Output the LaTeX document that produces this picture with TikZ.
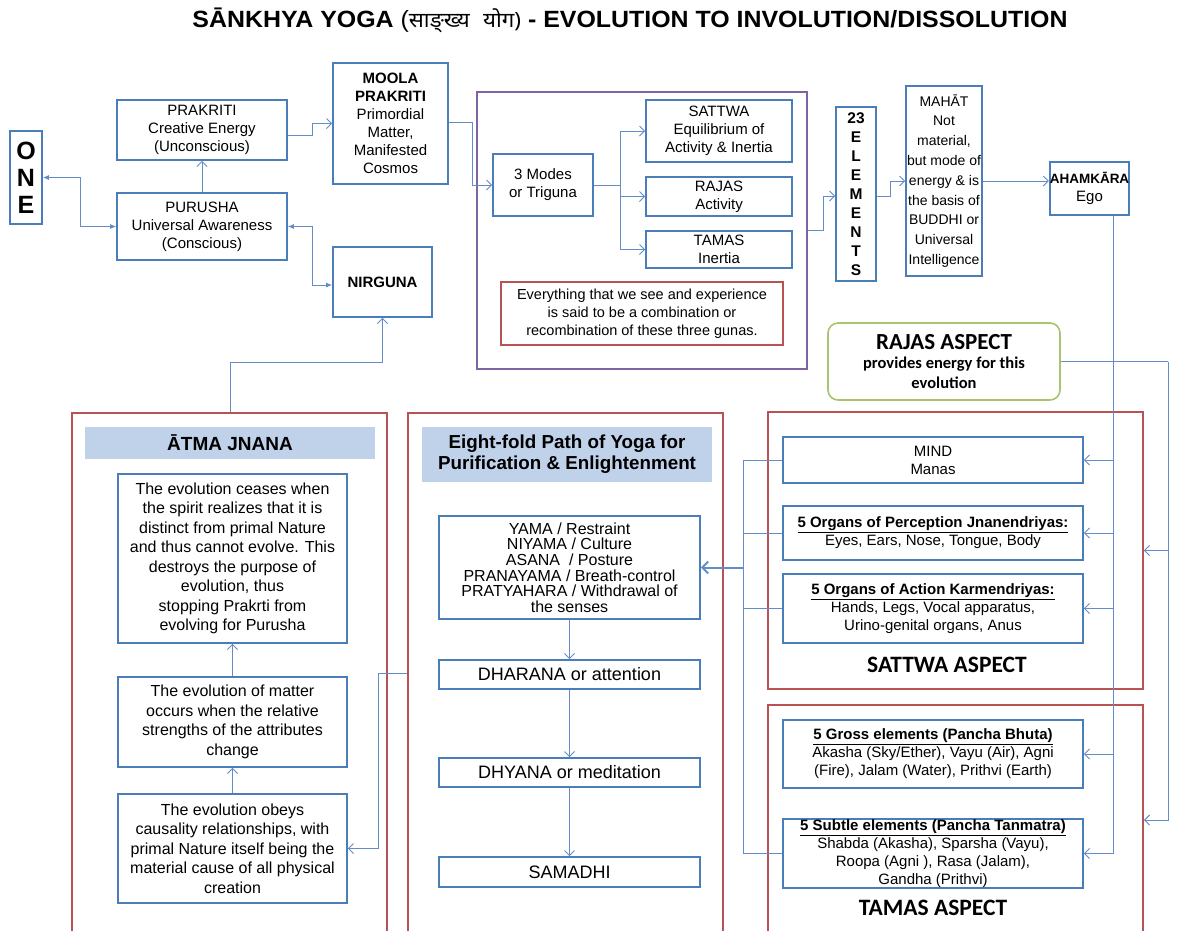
\documentclass[tikz,border=0pt]{standalone}
\usepackage{fontspec}
\setmainfont{Liberation Sans}
\newfontfamily\devfont[Script=Devanagari]{Noto Sans}
\newfontfamily\calfont{Carlito}
\usetikzlibrary{arrows.meta}
\definecolor{boxblue}{RGB}{74,126,187}
\definecolor{linkblue}{RGB}{100,140,198}
\definecolor{framered}{RGB}{185,82,82}
\definecolor{framepurple}{RGB}{128,100,162}
\definecolor{framegreen}{RGB}{170,195,110}
\definecolor{headfill}{RGB}{192,210,234}
\newcommand{\fs}[2]{\fontsize{#1}{#2}\selectfont}

\begin{document}
\begin{tikzpicture}[x=1pt,y=-1pt,
  box/.style={draw=boxblue,line width=1.6pt,fill=white,align=center,inner sep=1pt,font=\fs{15}{18}},
  frame/.style={draw=framered,line width=1.6pt,inner sep=0pt},
  head/.style={fill=headfill,inner sep=0pt,align=center},
  link/.style={draw=linkblue,line width=1pt},
  open/.style={-{Straight Barb[length=5pt,width=10pt]}},
  solid2/.style={{Latex[length=6pt,width=5pt]}-{Latex[length=6pt,width=5pt]}},
  aspect/.style={font=\calfont\bfseries\fs{23.5}{26},inner sep=0pt}
]
\useasboundingbox (0,0) rectangle (1182,930);
\clip (0,0) rectangle (1182,930);
\fill[white] (0,0) rectangle (1182,930);

% heading
\node[inner sep=0pt] (title) at (630,20)
  {\resizebox{875pt}{\height}{\fs{23.5}{26}\bfseries SĀNKHYA YOGA {\mdseries(\devfont\fs{21}{26}साङ्ख्य\hspace{0.6em}योग)} - EVOLUTION TO INVOLUTION/DISSOLUTION}};

% large frames
\node[draw=framepurple,line width=1.6pt,minimum width=330pt,minimum height=277pt,inner sep=0pt] (purp) at (642,230.5) {};
\node[frame,minimum width=315pt,minimum height=540pt] (redL) at (229.5,683) {};
\node[frame,minimum width=315pt,minimum height=540pt] (redM) at (565.5,683) {};
\node[frame,minimum width=375pt,minimum height=277pt] (redS) at (955.5,550.5) {};
\node[frame,minimum width=375pt,minimum height=240pt] (redT) at (955.5,825) {};

% frame headings
\node[head,minimum width=290pt,minimum height=32pt,font=\bfseries\fs{19}{21}] (atmahead) at (230,443) {ĀTMA JNANA};
\node[head,minimum width=290pt,minimum height=55pt,font=\bfseries\fs{18.8}{21}] (eighthead) at (567,454.5) {Eight-fold Path of Yoga for\\Purification \& Enlightenment};

% top row
\node[box,minimum width=32pt,minimum height=93pt,font=\bfseries\fs{25}{27}] (one) at (26,177.5) {O\\N\\E};
\node[box,minimum width=170pt,minimum height=60pt] (prak) at (202,130) {PRAKRITI\\Creative Energy\\(Unconscious)};
\node[box,minimum width=170pt,minimum height=67pt] (puru) at (202,226.5) {PURUSHA\\Universal Awareness\\(Conscious)};
\node[box,minimum width=115pt,minimum height=121pt] (moola) at (390.5,123.5) {\textbf{MOOLA}\\\textbf{PRAKRITI}\\Primordial\\Matter,\\Manifested\\Cosmos};
\node[box,minimum width=99pt,minimum height=70pt,font=\bfseries\fs{15}{18}] (nirg) at (382.5,282) {NIRGUNA};

% three gunas
\node[box,minimum width=100pt,minimum height=62pt] (modes) at (543,185) {3 Modes\\or Triguna};
\node[box,minimum width=146pt,minimum height=62pt] (sattwa) at (719,131) {SATTWA\\Equilibrium of\\Activity \& Inertia};
\node[box,minimum width=146pt,minimum height=39pt] (rajas) at (719,196.5) {RAJAS\\Activity};
\node[box,minimum width=146pt,minimum height=37pt] (tamas) at (719,249.5) {TAMAS\\Inertia};
\node[draw=framered,line width=1.6pt,minimum width=282pt,minimum height=63pt,align=center,font=\fs{14.5}{18}] (note) at (642,313.5)
  {Everything that we see and experience\\is said to be a combination or\\recombination of these three gunas.};

% evolutes
\node[box,minimum width=40pt,minimum height=174pt,inner sep=0pt,font=\bfseries\fs{15.5}{19}] (elem) at (856,194) {23\\E\\L\\E\\M\\E\\N\\T\\S};
\node[box,minimum width=76pt,minimum height=190pt,inner sep=0pt,font=\fs{14}{19.8}] (mahat) at (944,181)
  {MAHĀT\\Not\\material,\\but mode of\\energy \& is\\the basis of\\BUDDHI or\\Universal\\Intelligence};
\node[box,minimum width=77pt,minimum height=53pt,inner sep=0pt] (aham) at (1089.5,188.5) {{\bfseries\fs{13.5}{18}AHAMKĀRA}\\Ego};
\node[draw=framegreen,line width=1.6pt,rounded corners=10pt,fill=white,minimum width=232pt,minimum height=77pt,align=center,font=\calfont\bfseries\fs{16.5}{20}] (rajasasp) at (944,361.5)
  {{\fs{23}{26}RAJAS ASPECT}\\[-1pt]provides energy for this\\evolution};

% self-knowledge column
\node[box,minimum width=229pt,minimum height=169pt,font=\fs{16}{19.5}] (ev1) at (232.5,558.5)
  {The evolution ceases when\\the spirit realizes that it is\\distinct from primal Nature\\and thus cannot evolve. This\\destroys the purpose of\\evolution, thus\\stopping Prakrti from\\evolving for Purusha};
\node[box,minimum width=229pt,minimum height=90pt,font=\fs{16}{19.5}] (ev2) at (232.5,722)
  {The evolution of matter\\occurs when the relative\\strengths of the attributes\\change};
\node[box,minimum width=229pt,minimum height=109pt,font=\fs{16}{19.5}] (ev3) at (232.5,848.5)
  {The evolution obeys\\causality relationships, with\\primal Nature itself being the\\material cause of all physical\\creation};

% eight-fold path column
\node[box,minimum width=261pt,minimum height=103pt,font=\fs{16}{15.6}] (yama) at (569.5,567.5)
  {YAMA / Restraint\\NIYAMA / Culture\\ASANA~ / Posture\\PRANAYAMA / Breath-control\\PRATYAHARA / Withdrawal of\\the senses};
\node[box,minimum width=261pt,minimum height=29pt,font=\fs{18}{20}] (dharana) at (569.5,674.5) {DHARANA or attention};
\node[box,minimum width=261pt,minimum height=29pt,font=\fs{18}{20}] (dhyana) at (569.5,772.5) {DHYANA or meditation};
\node[box,minimum width=261pt,minimum height=30pt,font=\fs{18}{20}] (samadhi) at (569.5,872) {SAMADHI};

% sattwa and tamas aspects
\node[box,minimum width=300pt,minimum height=46pt] (mind) at (933,460) {MIND\\Manas};
\node[box,minimum width=300pt,minimum height=54pt] (perc) at (933,533)
  {\underline{\textbf{5 Organs of Perception Jnanendriyas:}}\\Eyes, Ears, Nose, Tongue, Body};
\node[box,minimum width=300pt,minimum height=69pt] (action) at (933,608.5)
  {\underline{\textbf{5 Organs of Action Karmendriyas:}}\\Hands, Legs, Vocal apparatus,\\Urino-genital organs, Anus};
\node[box,minimum width=300pt,minimum height=68pt] (gross) at (933,754)
  {\underline{\textbf{5 Gross elements (Pancha Bhuta)}}\\Akasha (Sky/Ether), Vayu (Air), Agni\\(Fire), Jalam (Water), Prithvi (Earth)};
\node[box,minimum width=300pt,minimum height=69pt,inner sep=0pt] (subtle) at (933,853.5)
  {\underline{\textbf{5 Subtle elements (Pancha Tanmatra)}}\\Shabda (Akasha), Sparsha (Vayu),\\Roopa (Agni ), Rasa (Jalam),\\Gandha (Prithvi)};
\node[aspect] (sattlbl) at (947,665) {SATTWA ASPECT};
\node[aspect] (tamlbl) at (933,908) {TAMAS ASPECT};

% routing columns
\coordinate (ax) at (1113,0);
\coordinate (rx) at (1168,0);
\coordinate (lx) at (743,0);
\coordinate (gx) at (620,0);

% connectors: top row
\draw[link,open] ([yshift=-5pt]prak.east) -- ++(25,0) |- (moola.west);
\draw[link,open] (puru.north) -- (prak.south);
\draw[link,solid2] (one.east) -- ++(38,0) |- (puru.west);
\draw[link,solid2] (puru.east) -- ++(25,0) |- ([yshift=-3pt]nirg.west);
\draw[link,open] (redL.north -| 230,0) -- (230,362) -| (nirg.south);
\draw[link,open] ([yshift=1pt]moola.east) -- ++(24,0) |- (modes.west);
\draw[link] (modes.east) -- (modes.east -| gx);
\draw[link,open] (modes.east -| gx) |- (sattwa.west);
\draw[link,open] (modes.east -| gx) |- (tamas.west);
\draw[link,open] (rajas.west -| gx) -- (rajas.west);
\draw[link,open] (purp.east) -- ++(16,0) |- ([yshift=-2pt]elem.west);
\draw[link,open] ([yshift=-2pt]elem.east) -- ++(14,0) |- (mahat.west);
\draw[link,open] (mahat.east) -- (mahat.east -| aham.west);

% connectors: ahamkara to its products
\draw[link,open] (aham.south -| ax) |- (subtle.east);
\foreach \n in {mind,perc,action,gross}
  \draw[link,open] (\n.east -| ax) -- (\n.east);

% connectors: rajas aspect energises both frames
\draw[link] (rajasasp.east) -- (rajasasp.east -| rx);
\draw[link,open] (rajasasp.east -| rx) |- (redT.east |- 0,820);
\draw[link,open] (redS.east -| rx) -- (redS.east);

% connectors: sattwa products feed the eight-fold path
\draw[link] (mind.west) -- (mind.west -| lx) -- (subtle.west -| lx) -- (subtle.west);
\draw[link] (perc.west) -- (perc.west -| lx);
\draw[link] (action.west) -- (action.west -| lx);
\draw[link,line width=2pt,-{Straight Barb[length=6pt,width=12pt]}] (yama.east -| lx) -- (yama.east);

% connectors: eight-fold path
\draw[link,open] (yama.south) -- (dharana.north);
\draw[link,open] (dharana.south) -- (dhyana.north);
\draw[link,open] (dhyana.south) -- (samadhi.north);

% connectors: self-knowledge
\draw[link,open] (ev3.north) -- (ev2.south);
\draw[link,open] (ev2.north) -- (ev1.south);
\draw[link,open] (redM.west |- 0,673) -- (378,673) |- (ev3.east);
\end{tikzpicture}
\end{document}
